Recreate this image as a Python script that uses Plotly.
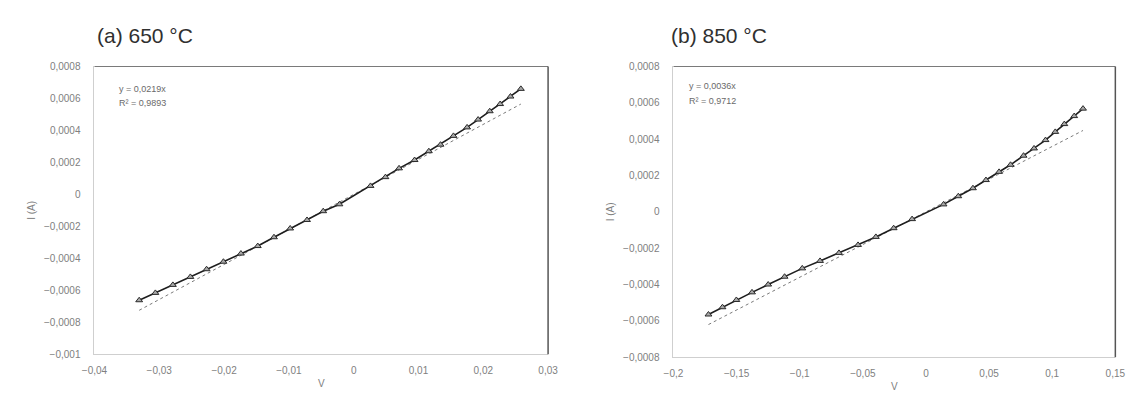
import plotly.graph_objects as go
from plotly.subplots import make_subplots

# ---- Data ----
v_650 = [-0.0331, -0.0306, -0.0279, -0.0252, -0.0227, -0.0201, -0.0174, -0.0148,
         -0.0123, -0.0098, -0.0072, -0.0047, -0.0022, 0.0026, 0.0049, 0.0070,
         0.0094, 0.0116, 0.0134, 0.0154, 0.0175, 0.0192, 0.0210, 0.0226, 0.0242, 0.0258]
i_650 = [-0.000662, -0.000616, -0.000566, -0.000516, -0.000468, -0.000421, -0.000370, -0.000323,
         -0.000268, -0.000213, -0.000160, -0.000105, -0.000062, 0.000053, 0.000108, 0.000163,
         0.000215, 0.000270, 0.000311, 0.000366, 0.000419, 0.000468, 0.000520, 0.000565, 0.000612, 0.000660]

v_850 = [-0.1723, -0.1612, -0.1502, -0.1378, -0.1250, -0.1120, -0.0980, -0.0839,
         -0.0689, -0.0538, -0.0397, -0.0256, -0.0110, 0.0139, 0.0256, 0.0372,
         0.0475, 0.0579, 0.0670, 0.0773, 0.0856, 0.0947, 0.1024, 0.1096, 0.1174, 0.1244]
i_850 = [-0.000565, -0.000525, -0.000485, -0.000443, -0.000400, -0.000357, -0.000311, -0.000270,
         -0.000226, -0.000182, -0.000138, -0.000090, -0.000040, 0.000041, 0.000086, 0.000130,
         0.000175, 0.000220, 0.000259, 0.000309, 0.000349, 0.000395, 0.000440, 0.000483, 0.000527, 0.000568]

slope_650 = 0.0219
r2_650 = "0,9893"
slope_850 = 0.0036
r2_850 = "0,9712"

titles = ["(a) 650 °C", "(b) 850 °C"]
x_title = "V"
y_title = "I (A)"

FONT = "Liberation Sans, Arial, sans-serif"
TICK_COLOR = "#808080"

fig = make_subplots(rows=1, cols=2)

def add_panel(col, v, i, slope):
    trend_x = [min(v), max(v)]
    trend_y = [slope * x for x in trend_x]
    fig.add_trace(go.Scatter(x=trend_x, y=trend_y, mode="lines",
                             line=dict(color="#7a7a7a", width=1, dash="dot"),
                             showlegend=False, hoverinfo="skip"), row=1, col=col)
    fig.add_trace(go.Scatter(x=v, y=i, mode="lines+markers",
                             line=dict(color="#1e1e1e", width=1.6),
                             marker=dict(symbol="triangle-up", size=6, color="#a8a8a8",
                                         line=dict(color="#2a2a2a", width=1)),
                             showlegend=False), row=1, col=col)

add_panel(1, v_650, i_650, slope_650)
add_panel(2, v_850, i_850, slope_850)

axis_common = dict(showgrid=False, zeroline=False, showline=True, mirror=False,
                   linecolor="#cfcfcf", linewidth=1, ticks="",
                   tickfont=dict(family=FONT, size=10, color=TICK_COLOR),
                   title_font=dict(family=FONT, size=10, color=TICK_COLOR))

fig.update_xaxes(axis_common, ticklabelstandoff=7)
fig.update_yaxes(axis_common, ticklabelstandoff=11, tickformat="~g")

fig.update_xaxes(range=[-0.04, 0.03], dtick=0.01, domain=[75/1134, 538/1134],
                 title_text=x_title, title_standoff=4, row=1, col=1)
fig.update_yaxes(range=[-0.001, 0.0008], dtick=0.0002, domain=[1-351/398, 1-55/398],
                 title_text=y_title, title_standoff=6, row=1, col=1)
fig.update_xaxes(range=[-0.2, 0.15], dtick=0.05, domain=[666/1134, 1117/1134],
                 title_text=x_title, title_standoff=4, row=1, col=2)
fig.update_yaxes(range=[-0.0008, 0.0008], dtick=0.0002, domain=[1-354/398, 1-55/398],
                 title_text=y_title, title_standoff=6, row=1, col=2)

# darker top / right frame lines like the reference
for xd, yd in (("x domain", "y domain"), ("x2 domain", "y2 domain")):
    fig.add_shape(type="line", xref=xd, yref=yd, x0=0, x1=1, y0=1, y1=1,
                  line=dict(color="#7a7a7a", width=1.2))
    fig.add_shape(type="line", xref=xd, yref=yd, x0=1, x1=1, y0=0, y1=1,
                  line=dict(color="#555555", width=1.5))

# panel titles
fig.add_annotation(text=titles[0], x=76/1134, y=1-23/398, xref="paper", yref="paper",
                   xanchor="left", yanchor="middle", showarrow=False,
                   font=dict(family=FONT, size=21, color="#303030"))
fig.add_annotation(text=titles[1], x=661/1134, y=1-23/398, xref="paper", yref="paper",
                   xanchor="left", yanchor="middle", showarrow=False,
                   font=dict(family=FONT, size=21, color="#303030"))

# trendline equations
eq_font = dict(family=FONT, size=9, color="#6a6a6a")
fig.add_annotation(text=f"y = {str(slope_650).replace('.', ',')}x",
                   x=98/1134, y=1-78/398, xref="paper", yref="paper",
                   xanchor="left", yanchor="middle", showarrow=False, font=eq_font)
fig.add_annotation(text=f"R² = {r2_650}",
                   x=98/1134, y=1-93/398, xref="paper", yref="paper",
                   xanchor="left", yanchor="middle", showarrow=False, font=eq_font)
fig.add_annotation(text=f"y = {str(slope_850).replace('.', ',')}x",
                   x=680/1134, y=1-75/398, xref="paper", yref="paper",
                   xanchor="left", yanchor="middle", showarrow=False, font=eq_font)
fig.add_annotation(text=f"R² = {r2_850}",
                   x=680/1134, y=1-90/398, xref="paper", yref="paper",
                   xanchor="left", yanchor="middle", showarrow=False, font=eq_font)

fig.update_layout(width=1134, height=398, margin=dict(l=0, r=0, t=0, b=0),
                  paper_bgcolor="white", plot_bgcolor="white", separators=",.",
                  font=dict(family=FONT))

fig.write_html("out.html")
